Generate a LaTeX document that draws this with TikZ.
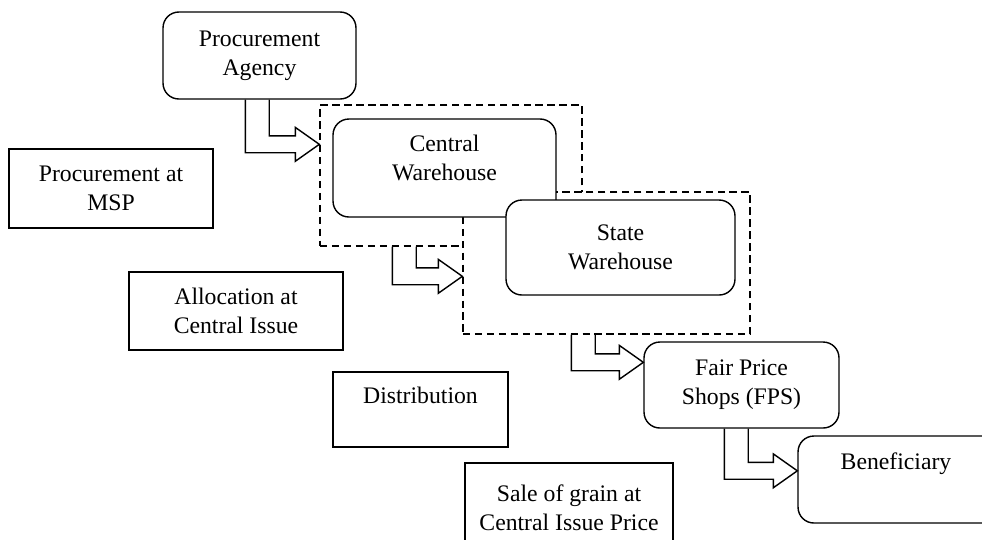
\documentclass[tikz,border=0pt]{standalone}
\usepackage{fontspec}
\setmainfont{Liberation Serif}
\usetikzlibrary{calc}

% L-shaped block arrow: #1 = top of the outer leg, #2 = tip
\newcommand{\flowarrow}[2]{%
  \draw[arrowline] let \p1=(#1), \p2=(#2) in
    (\x1,\y1) -- (\x1,\y2-4.8pt) -- (\x2-13.6pt,\y2-4.8pt) -- (\x2-13.6pt,\y2-9.6pt)
    -- (\x2,\y2) -- (\x2-13.6pt,\y2+9.6pt) -- (\x2-13.6pt,\y2+4.8pt)
    -- (\x1+13.6pt,\y2+4.8pt) -- (\x1+13.6pt,\y1);}

\tikzset{
  plainbox/.style={draw, line width=0.8pt, fill=white, align=center, inner sep=2pt,
    font=\fontsize{13.5}{16.4}\selectfont},
  roundbox/.style={plainbox, rounded corners=9pt},
  dashbox/.style={draw, line width=0.8pt, dash pattern=on 4.2pt off 2.6pt, inner sep=0pt},
  arrowline/.style={line width=0.8pt, line join=miter}
}

\begin{document}
\begin{tikzpicture}[x=0.02cm, y=-0.02cm]

\useasboundingbox (0,0) rectangle (982,539);
\clip (0,0) rectangle (982,539);

% Stage labels
\node[plainbox, minimum width=4.08cm, minimum height=1.58cm] (msp) at (111,188.5) {Procurement at\\MSP};
\node[plainbox, minimum width=4.28cm, minimum height=1.56cm] (alloc) at (236,311) {Allocation at\\Central Issue};
\node[plainbox, minimum width=3.5cm, minimum height=1.5cm, text depth=16pt] (dist) at (420.5,409.5) {Distribution};
\node[plainbox, minimum width=4.16cm, minimum height=1.78cm] (sale) at (569,507.5) {Sale of grain at\\Central Issue Price};

% Agencies
\node[roundbox, minimum width=3.86cm, minimum height=1.74cm] (agency) at (259.5,55.5) {Procurement\\Agency};

% Dashed groups
\node[dashbox, minimum width=5.24cm, minimum height=2.82cm] (grpa) at (451,175.5) {};
\node[dashbox, fill=white, minimum width=5.74cm, minimum height=2.84cm] (grpb) at (606.5,263) {};

% Warehouses
\node[roundbox, minimum width=4.46cm, minimum height=1.96cm, text depth=12pt] (central) at (444.5,168) {Central\\Warehouse};
\node[roundbox, minimum width=4.58cm, minimum height=1.9cm] (state) at (620.5,247.5) {State\\Warehouse};

% Shops and beneficiary
\node[roundbox, minimum width=3.9cm, minimum height=1.72cm] (fps) at (741.5,385) {Fair Price\\Shops (FPS)};
\node[roundbox, minimum width=4.8cm, minimum height=1.74cm, text depth=21pt] (ben) at (918,479.5) {Beneficiary\hspace*{0.88cm}};

% Flow arrows
\coordinate (s1) at ($(agency.south west)+(83,0)$);
\coordinate (t1) at ($(grpa.north west)+(0,40)$);
\coordinate (s2) at ($(grpa.south west)+(73,0)$);
\coordinate (t2) at ($(grpb.north west)+(0,85)$);
\coordinate (s3) at ($(grpb.south west)+(109,0)$);
\coordinate (t3) at ($(fps.north west)+(0,21)$);
\coordinate (s4) at ($(fps.south west)+(81,0)$);
\coordinate (t4) at ($(ben.north west)+(0,35.5)$);
\flowarrow{s1}{t1}
\flowarrow{s2}{t2}
\flowarrow{s3}{t3}
\flowarrow{s4}{t4}

\end{tikzpicture}
\end{document}
